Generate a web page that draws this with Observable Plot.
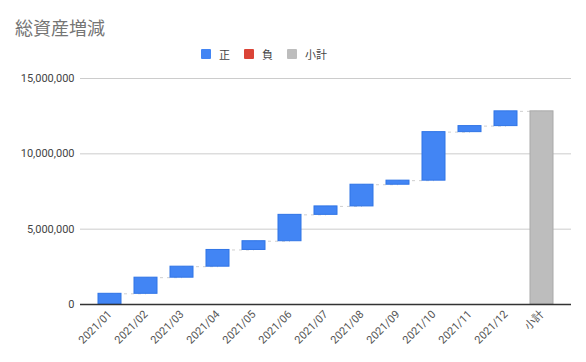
<!DOCTYPE html>
<html>
<head>
<meta charset="utf-8">
<script src="https://cdn.jsdelivr.net/npm/d3@7"></script>
<script src="https://cdn.jsdelivr.net/npm/@observablehq/plot@0.6"></script>
<style>
  body { margin: 0; background: #fff; font-family: Roboto, "Noto Sans CJK JP", sans-serif; }
  #wrap { position: relative; width: 586px; height: 362px; }
  #title { position: absolute; left: 15px; top: 14px; font-size: 18px; color: #757575; font-family: "Noto Sans CJK JP", Roboto, sans-serif; }
  #legend { position: absolute; left: 201px; top: 46px; font-size: 11px; color: #444; font-family: "Noto Sans CJK JP", Roboto, sans-serif; display: flex; }
  #legend span.item { display: inline-flex; align-items: center; margin-right: 14px; }
  #legend span.sw { display: inline-block; width: 10px; height: 10px; margin-right: 8px; border-radius: 1px; }
  #chart { position: absolute; left: 0; top: 0; }
</style>
</head>
<body>
<div id="wrap">
  <div id="chart"></div>
  <div id="title">総資産増減</div>
  <div id="legend"></div>
</div>
<script>
const months = ["2021/01","2021/02","2021/03","2021/04","2021/05","2021/06","2021/07","2021/08","2021/09","2021/10","2021/11","2021/12"];
const increments = [710000, 1070000, 730000, 1110000, 580000, 1750000, 560000, 1440000, 270000, 3220000, 400000, 980000];
const subtotalLabel = "小計";
const legendLabels = ["正", "負", "小計"];
const legendColors = ["#4285F4", "#DB4437", "#BDBDBD"];
const yTicks = [0, 5000000, 10000000, 15000000];

// build waterfall rows
let cum = 0;
const rows = months.map((m, i) => {
  const start = cum;
  cum += increments[i];
  return {cat: m, y1: start, y2: cum, kind: increments[i] >= 0 ? "pos" : "neg"};
});
rows.push({cat: subtotalLabel, y1: 0, y2: cum, kind: "sub"});
const cats = rows.map(d => d.cat);
const links = rows.slice(0, -1).map((d, i) => ({a: d.cat, b: rows[i + 1].cat, y: d.y2}));

const fillOf = {pos: "#4285F4", neg: "#DB4437", sub: "#BDBDBD"};
const strokeOf = {pos: "#2f74e6", neg: "#c23321", sub: "#a9a9a9"};

const chart = Plot.plot({
  width: 586,
  height: 362,
  marginTop: 78,
  marginBottom: 58,
  marginLeft: 80,
  marginRight: 15,
  style: {fontFamily: "Roboto, 'Noto Sans CJK JP', sans-serif", fontSize: "11px", color: "#444"},
  x: {domain: cats, padding: 0.375, label: null},
  y: {domain: [0, 15000000], label: null},
  marks: [
    Plot.ruleY(yTicks.slice(1), {stroke: "#cccccc", strokeWidth: 1}),
    Plot.link(links, {x1: "a", x2: "b", y1: "y", y2: "y", stroke: "#cfcfcf", strokeWidth: 1, strokeDasharray: "3,4"}),
    Plot.barY(rows, {x: "cat", y1: "y1", y2: "y2", fill: d => fillOf[d.kind], stroke: d => strokeOf[d.kind], strokeWidth: 1}),
    Plot.ruleY([0], {stroke: "#333", strokeWidth: 1.5}),
    Plot.axisY({ticks: yTicks, tickSize: 0, tickPadding: 6, tickFormat: d3.format(","), fill: "#444"}),
    Plot.axisX({tickSize: 0, tickRotate: -45, tickPadding: 8, fill: "#555"})
  ]
});
document.getElementById("chart").appendChild(chart);

const lg = document.getElementById("legend");
legendLabels.forEach((l, i) => {
  const s = document.createElement("span");
  s.className = "item";
  s.innerHTML = `<span class="sw" style="background:${legendColors[i]}"></span>${l}`;
  lg.appendChild(s);
});
</script>
</body>
</html>
